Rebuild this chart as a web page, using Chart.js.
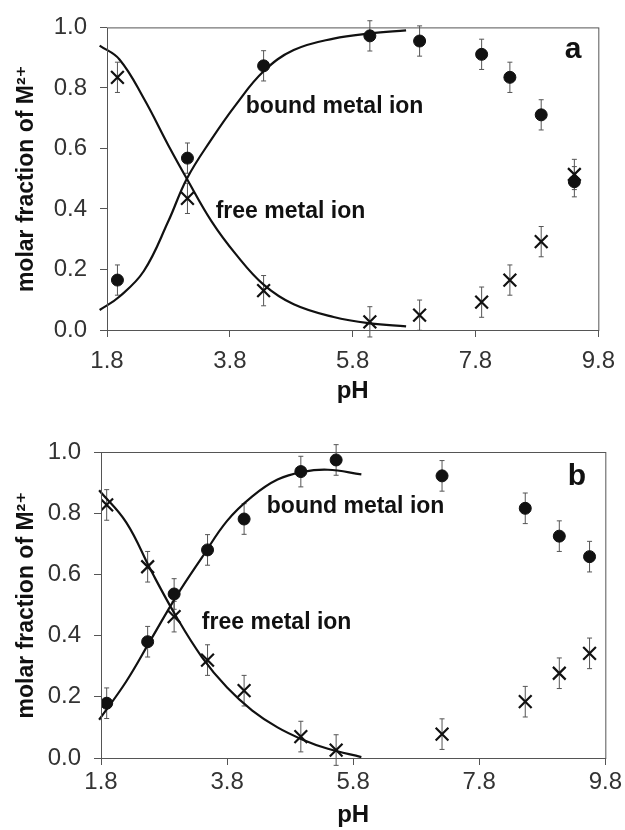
<!DOCTYPE html>
<html>
<head>
<meta charset="utf-8">
<script src="https://cdn.jsdelivr.net/npm/chart.js@4.4.1/dist/chart.umd.min.js"></script>
<style>
  html, body { margin: 0; padding: 0; background: #fff; }
  .panel { position: absolute; left: 0; width: 625px; height: 415px; }
</style>
</head>
<body>
<div class="panel" style="top:0"><canvas id="chartA" width="625" height="415"></canvas></div>
<div class="panel" style="top:415px"><canvas id="chartB" width="625" height="415"></canvas></div>
<script>
// axis ticks
const xTicks = [1.8, 3.8, 5.8, 7.8, 9.8];
const yTicks = [0, 0.2, 0.4, 0.6, 0.8, 1.0];

// panel a - measured points
const phA = [1.97, 3.11, 4.35, 6.08, 6.89, 7.90, 8.36, 8.87, 9.41];
const boundA = [0.165, 0.568, 0.873, 0.972, 0.955, 0.911, 0.835, 0.711, 0.490];
const freeA = [0.835, 0.435, 0.130, 0.027, 0.049, 0.092, 0.165, 0.292, 0.514];
const errA = [0.05, 0.05, 0.05, 0.05, 0.05, 0.05, 0.05, 0.05, 0.05];
// panel a - fitted curves
const fitPhA = [1.68, 2.0, 2.4, 2.8, 3.1, 3.5, 3.9, 4.35, 4.84, 5.49, 6.08, 6.67];
const fitBoundA = [0.066, 0.11, 0.195, 0.36, 0.50, 0.63, 0.745, 0.855, 0.925, 0.963, 0.98, 0.99];
const fitFreeA = [0.94, 0.895, 0.765, 0.61, 0.50, 0.36, 0.25, 0.15, 0.085, 0.043, 0.022, 0.012];

// panel b - measured points
const phB = [1.89, 2.54, 2.96, 3.49, 4.07, 4.97, 5.53, 7.21, 8.53, 9.07, 9.55];
const boundB = [0.179, 0.38, 0.536, 0.68, 0.781, 0.936, 0.974, 0.922, 0.816, 0.725, 0.658];
const freeB = [0.827, 0.625, 0.462, 0.32, 0.22, 0.07, 0.026, 0.078, 0.184, 0.277, 0.342];
const errB = [0.05, 0.05, 0.05, 0.05, 0.05, 0.05, 0.05, 0.05, 0.05, 0.05, 0.05];
// panel b - fitted curves
const fitPhB = [1.77, 2.2, 2.6, 3.0, 3.4, 3.8, 4.2, 4.6, 5.0, 5.4, 5.93];
const fitBoundB = [0.125, 0.25, 0.39, 0.53, 0.655, 0.775, 0.855, 0.91, 0.935, 0.942, 0.927];
const fitFreeB = [0.875, 0.77, 0.61, 0.46, 0.33, 0.23, 0.155, 0.10, 0.06, 0.03, 0.003];

Chart.defaults.font.family = "'Liberation Sans', Arial, 'DejaVu Sans', sans-serif";
Chart.defaults.color = "#333";

function toPoints(xs, ys) {
  return xs.map((x, i) => ({ x: x, y: ys[i] }));
}

// vertical error bars with small caps, under the markers
const errorBars = {
  id: "errorBars",
  beforeDatasetsDraw(chart) {
    const { ctx, scales } = chart;
    ctx.save();
    ctx.strokeStyle = "#555";
    ctx.lineWidth = 1;
    chart.data.datasets.forEach((ds) => {
      if (!ds.errors) return;
      ds.data.forEach((p, i) => {
        const x = scales.x.getPixelForValue(p.x);
        const y1 = scales.y.getPixelForValue(p.y + ds.errors[i]);
        const y2 = scales.y.getPixelForValue(p.y - ds.errors[i]);
        ctx.beginPath();
        ctx.moveTo(x, y1); ctx.lineTo(x, y2);
        ctx.moveTo(x - 2.5, y1); ctx.lineTo(x + 2.5, y1);
        ctx.moveTo(x - 2.5, y2); ctx.lineTo(x + 2.5, y2);
        ctx.stroke();
      });
    });
    ctx.restore();
  },
};

// box around the plot area and text labels inside it
const frameAndLabels = {
  id: "frameAndLabels",
  afterDraw(chart, args, opts) {
    const { ctx, chartArea, scales } = chart;
    ctx.save();
    ctx.strokeStyle = "#555";
    ctx.lineWidth = 1;
    ctx.strokeRect(chartArea.left + 0.5, chartArea.top + 0.5,
      chartArea.right - chartArea.left, chartArea.bottom - chartArea.top);
    ctx.fillStyle = "#111";
    ctx.textBaseline = "middle";
    (opts.labels || []).forEach((l) => {
      ctx.font = l.font;
      ctx.textAlign = l.align;
      ctx.fillText(l.text, scales.x.getPixelForValue(l.x), scales.y.getPixelForValue(l.y));
    });
    ctx.restore();
  },
};

function buildPanel(canvasId, p) {
  const ctx = document.getElementById(canvasId).getContext("2d");
  const curve = {
    type: "line",
    showLine: true,
    pointRadius: 0,
    borderColor: "#111",
    borderWidth: 2.2,
    tension: 0.4,
    clip: false,
  };
  return new Chart(ctx, {
    type: "scatter",
    data: {
      datasets: [
        {
          label: "bound metal ion",
          data: toPoints(p.ph, p.bound),
          errors: p.err,
          pointStyle: "circle",
          pointRadius: 6,
          backgroundColor: "#111",
          borderColor: "#111",
        },
        {
          label: "free metal ion",
          data: toPoints(p.ph, p.free),
          errors: p.err,
          pointStyle: "crossRot",
          pointRadius: 9,
          borderWidth: 2.2,
          borderColor: "#111",
        },
        Object.assign({ data: toPoints(p.fitPh, p.fitBound) }, curve),
        Object.assign({ data: toPoints(p.fitPh, p.fitFree) }, curve),
      ],
    },
    options: {
      responsive: false,
      animation: false,
      events: [],
      layout: { padding: { top: p.top, right: p.right, left: 0, bottom: 0 } },
      plugins: {
        legend: { display: false },
        tooltip: { enabled: false },
        frameAndLabels: { labels: p.labels },
      },
      scales: {
        x: {
          type: "linear",
          min: 1.8,
          max: 9.8,
          afterBuildTicks: (s) => { s.ticks = xTicks.map((v) => ({ value: v })); },
          afterFit: (s) => { s.height = p.xHeight; },
          border: { display: false },
          grid: { drawOnChartArea: false, drawTicks: true, tickLength: 7, color: "#555" },
          ticks: {
            font: { size: 24 },
            color: "#333",
            padding: p.xTickPad,
            callback: (v) => v.toFixed(1),
          },
          title: {
            display: true,
            text: "pH",
            font: { size: 24, weight: "bold" },
            color: "#111",
            padding: { top: 0, bottom: p.xTitlePad },
          },
        },
        y: {
          type: "linear",
          min: 0,
          max: 1,
          afterBuildTicks: (s) => { s.ticks = yTicks.map((v) => ({ value: v })); },
          afterFit: (s) => { s.width = p.yWidth; },
          border: { display: false },
          grid: { drawOnChartArea: false, drawTicks: true, tickLength: 7, color: "#555" },
          ticks: {
            font: { size: 24 },
            color: "#333",
            padding: 13,
            callback: (v) => v.toFixed(1),
          },
          title: {
            display: true,
            text: "molar fraction of M²⁺",
            font: { size: 23, weight: "bold" },
            color: "#111",
            padding: { top: 13, bottom: 0 },
          },
        },
      },
    },
    plugins: [errorBars, frameAndLabels],
  });
}

buildPanel("chartA", {
  ph: phA, bound: boundA, free: freeA, err: errA,
  fitPh: fitPhA, fitBound: fitBoundA, fitFree: fitFreeA,
  top: 22, right: 23, yWidth: 107, xHeight: 85, xTickPad: 10, xTitlePad: 9,
  labels: [
    { text: "bound metal ion", x: 4.06, y: 0.737, align: "left", font: "bold 23px 'Liberation Sans', Arial" },
    { text: "free metal ion", x: 3.57, y: 0.39, align: "left", font: "bold 23px 'Liberation Sans', Arial" },
    { text: "a", x: 9.39, y: 0.925, align: "center", font: "bold 30px 'Liberation Sans', Arial" },
  ],
});

buildPanel("chartB", {
  ph: phB, bound: boundB, free: freeB, err: errB,
  fitPh: fitPhB, fitBound: fitBoundB, fitFree: fitFreeB,
  top: 37, right: 19, yWidth: 101, xHeight: 72, xTickPad: 3, xTitlePad: 0,
  labels: [
    { text: "bound metal ion", x: 4.43, y: 0.821, align: "left", font: "bold 23px 'Liberation Sans', Arial" },
    { text: "free metal ion", x: 3.40, y: 0.441, align: "left", font: "bold 23px 'Liberation Sans', Arial" },
    { text: "b", x: 9.35, y: 0.919, align: "center", font: "bold 30px 'Liberation Sans', Arial" },
  ],
});
</script>
</body>
</html>
